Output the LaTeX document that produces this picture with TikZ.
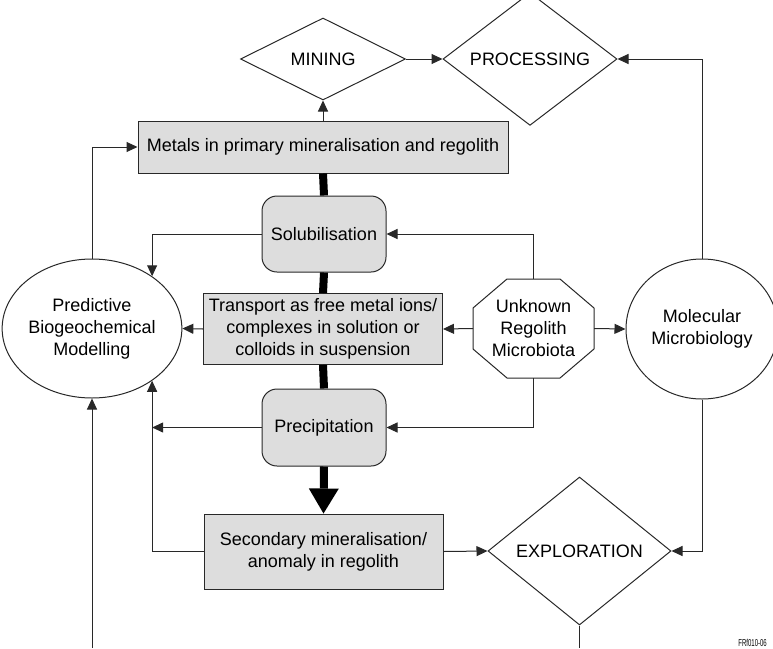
\documentclass[tikz,border=0pt]{standalone}
\usepackage{fontspec}
\usepackage{graphicx}
\setmainfont{Liberation Sans}
\usetikzlibrary{shapes.geometric,arrows.meta}

\definecolor{boxgray}{RGB}{221,221,221}
\definecolor{linegray}{RGB}{40,40,40}

\tikzset{
  base/.style={draw=linegray, line width=1pt, font=\fontsize{18pt}{22pt}\selectfont, align=center, inner sep=2pt},
  stage/.style={base, rectangle, fill=boxgray},
  process/.style={base, rectangle, rounded corners=15pt, fill=boxgray},
  decision/.style={base, diamond, inner sep=0pt},
  field/.style={base, ellipse, inner sep=0pt},
  conn/.style={draw=linegray, line width=1pt, -{Triangle[length=11pt,width=10pt]}},
  plainline/.style={draw=linegray, line width=1pt},
  mainflow/.style={draw=black, line width=8pt},
}

\begin{document}
\begin{tikzpicture}[x=1pt, y=-1pt]
        \useasboundingbox (0,0) rectangle (773,648);

        % Mine and plant
        \node[decision, minimum width=165pt, minimum height=82pt] (mining) at (323,59) {MINING};
        \node[decision, minimum width=174pt, minimum height=97pt] (processing) at (530,59) {PROCESSING};

        % Metal cycle in the regolith
        \node[stage, minimum width=370pt, minimum height=52pt] (metals) at (323,147) {Metals in primary mineralisation and regolith};
        \node[process, minimum width=124pt, minimum height=76pt] (solub) at (324,234) {Solubilisation};
        \node[stage, minimum width=239pt, minimum height=71pt] (transport) at (323,329) {Transport as free metal ions/\\complexes in solution or\\colloids in suspension};
        \node[process, minimum width=124pt, minimum height=77pt] (precip) at (324,427.5) {Precipitation};
        \node[stage, minimum width=239pt, minimum height=75pt] (secondary) at (323.5,551.5) {Secondary mineralisation/\\anomaly in regolith};
        \node[decision, minimum width=183pt, minimum height=148pt] (exploration) at (579.5,551) {EXPLORATION};

        % Side fields
        \node[field, minimum width=160pt, minimum height=139pt] (predictive) at (92,328.5) {Predictive\\Biogeochemical\\Modelling};
        \node[field, minimum width=152pt, minimum height=140pt] (molecular) at (702,329) {Molecular\\Microbiology};

        % Microbiota octagon
        \node[base, draw=none, outer sep=0pt, minimum width=121pt, minimum height=99pt] (unknown) at (533.5,328.5) {Unknown\\Regolith\\Microbiota};
        \draw[plainline, fill=white] ([xshift=34pt]unknown.north west) -- ([xshift=-34pt]unknown.north east)
            -- ([yshift=-29pt]unknown.north east) -- ([yshift=29pt]unknown.south east)
            -- ([xshift=-34pt]unknown.south east) -- ([xshift=34pt]unknown.south west)
            -- ([yshift=29pt]unknown.south west) -- ([yshift=-29pt]unknown.north west) -- cycle;
        \node[base, draw=none] at (unknown) {Unknown\\Regolith\\Microbiota};

        % Main flow
        \draw[mainflow] (metals.south) -- (solub.north);
        \draw[mainflow] (solub.south) -- (transport.north);
        \draw[mainflow] (transport.south) -- (precip.north);
        \draw[mainflow, -{Triangle[length=25pt,width=30pt,line width=0pt]}] (precip.south) -- (secondary.north);

        % Arrows
        \draw[conn] (metals.north) -- (mining.south);
        \draw[conn] (mining.east) -- (processing.west);
        \draw[conn] (molecular.north) |- (processing.east);
        \draw[conn] (predictive.north) |- (metals.west);
        \draw[conn] (unknown.north) |- (solub.east);
        \draw[conn] (solub.west) -| (predictive.41.55);
        \draw[conn] (transport.west) -- (predictive.east);
        \draw[conn] (unknown.west) -- (transport.east);
        \draw[conn] (unknown.east) -- (molecular.west);
        \draw[conn] (unknown.south) |- (precip.east);
        \draw[conn] (precip.west) -- (precip.west -| predictive.-41.55);
        \draw[conn] (secondary.west) -| (predictive.-41.55);
        \draw[conn] (secondary.east) -- (exploration.west);
        \draw[conn] (molecular.south) |- (exploration.east);

        % Lines leaving the figure
        \coordinate (modelin) at (92,648);
        \coordinate (explout) at (579.5,648);
        \draw[conn] (modelin) -- (predictive.south);
        \draw[plainline] (exploration.south) -- (explout);

        \node[anchor=east, inner sep=0pt, font=\fontsize{10pt}{12pt}\selectfont] (figid) at (767,643) {\scalebox{0.6}[1]{FRf010-06}};
\end{tikzpicture}
\end{document}
